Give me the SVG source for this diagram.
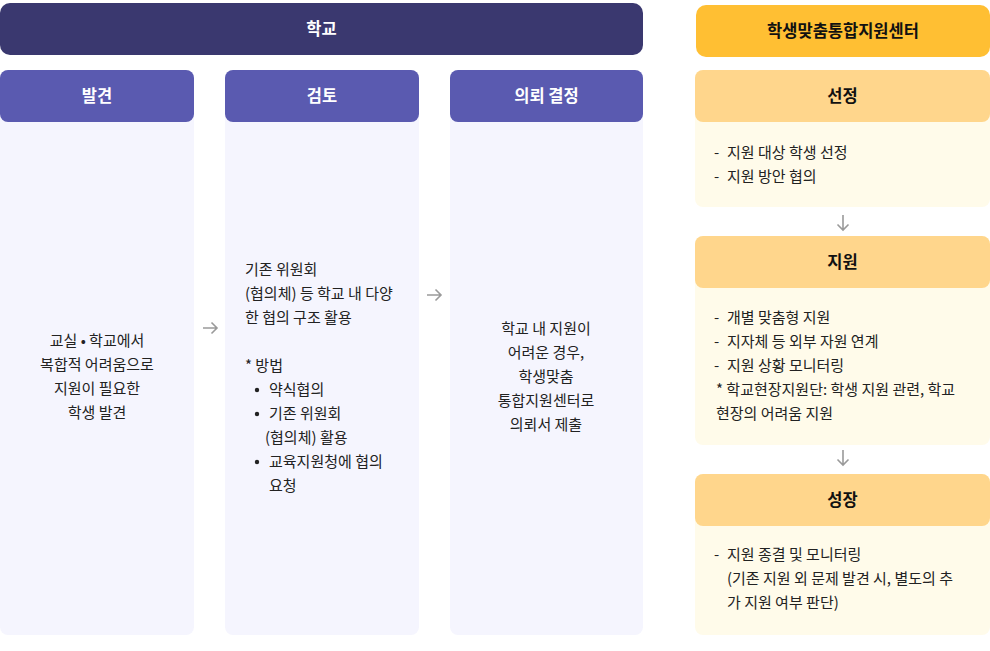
<svg xmlns="http://www.w3.org/2000/svg" width="990" height="651" viewBox="0 0 990 651">
<defs>
<style>
text{font-family:"Noto Sans CJK KR","Noto Sans",sans-serif;}
.hd{font-size:16.5px;font-weight:700;fill:#fff;text-anchor:middle;}
.hd2{font-size:16.5px;font-weight:700;fill:#111;text-anchor:middle;}
.tx{font-size:15px;fill:#222;}
.c{text-anchor:middle;}
.sch{fill:#3a386f;}
.ph{fill:#5a5ab0;}
.pb{fill:#f5f5fe;}
.ct{fill:#ffbf33;}
.oh{fill:#ffd68c;}
.ob{fill:#fffbea;}
.ar{fill:none;stroke:#9a9a9a;stroke-width:1.6;}
</style>
</defs>
<rect width="990" height="651" fill="#fff"/>
<g id="school">
<rect class="sch" x="0" y="3" width="643" height="52" rx="10"/>
<text class="hd" x="321.5" y="35">학교</text>
</g>
<g id="discover">
<rect class="pb" x="0" y="70" width="194" height="565" rx="8"/>
<rect class="ph" x="0" y="70" width="194" height="52" rx="8"/>
<text class="hd" x="97" y="102">발견</text>
<text class="tx c" x="97" y="346">교실 • 학교에서</text>
<text class="tx c" x="97" y="370">복합적 어려움으로</text>
<text class="tx c" x="97" y="394">지원이 필요한</text>
<text class="tx c" x="97" y="418">학생 발견</text>
</g>
<g id="review">
<rect class="pb" x="225" y="70" width="194" height="565" rx="8"/>
<rect class="ph" x="225" y="70" width="194" height="52" rx="8"/>
<text class="hd" x="322" y="102">검토</text>
<text class="tx" x="245" y="275">기존 위원회</text>
<text class="tx" x="245" y="299">(협의체) 등 학교 내 다양</text>
<text class="tx" x="245" y="323">한 협의 구조 활용</text>
<text class="tx" x="245" y="371">* 방법</text>
<circle cx="257" cy="390" r="2.2" fill="#222"/>
<text class="tx" x="269" y="395">약식협의</text>
<circle cx="257" cy="414" r="2.2" fill="#222"/>
<text class="tx" x="269" y="419">기존 위원회</text>
<text class="tx" x="265" y="443">(협의체) 활용</text>
<circle cx="257" cy="462" r="2.2" fill="#222"/>
<text class="tx" x="269" y="467">교육지원청에 협의</text>
<text class="tx" x="269" y="491">요청</text>
</g>
<g id="refer">
<rect class="pb" x="450" y="70" width="193" height="565" rx="8"/>
<rect class="ph" x="450" y="70" width="193" height="52" rx="8"/>
<text class="hd" x="546.5" y="102">의뢰 결정</text>
<text class="tx c" x="546" y="334">학교 내 지원이</text>
<text class="tx c" x="546" y="358">어려운 경우,</text>
<text class="tx c" x="546" y="382">학생맞춤</text>
<text class="tx c" x="546" y="406">통합지원센터로</text>
<text class="tx c" x="546" y="430">의뢰서 제출</text>
</g>
<g id="center">
<rect class="ct" x="696" y="5" width="294" height="52" rx="10"/>
<text class="hd2" x="843" y="37">학생맞춤통합지원센터</text>
</g>
<g id="select">
<rect class="ob" x="695" y="70" width="295" height="137" rx="8"/>
<rect class="oh" x="695" y="70" width="295" height="52" rx="8"/>
<text class="hd2" x="842.5" y="102">선정</text>
<text class="tx" x="714" y="158">-</text>
<text class="tx" x="727" y="158">지원 대상 학생 선정</text>
<text class="tx" x="714" y="182">-</text>
<text class="tx" x="727" y="182">지원 방안 협의</text>
</g>
<g id="support">
<rect class="ob" x="695" y="236" width="295" height="209" rx="8"/>
<rect class="oh" x="695" y="236" width="295" height="52" rx="8"/>
<text class="hd2" x="842.5" y="268">지원</text>
<text class="tx" x="714" y="323">-</text>
<text class="tx" x="727" y="323">개별 맞춤형 지원</text>
<text class="tx" x="714" y="347">-</text>
<text class="tx" x="727" y="347">지자체 등 외부 자원 연계</text>
<text class="tx" x="714" y="371">-</text>
<text class="tx" x="727" y="371">지원 상황 모니터링</text>
<text class="tx" x="716" y="395">* 학교현장지원단: 학생 지원 관련, 학교</text>
<text class="tx" x="716" y="419">현장의 어려움 지원</text>
</g>
<g id="growth">
<rect class="ob" x="695" y="474" width="295" height="161" rx="8"/>
<rect class="oh" x="695" y="474" width="295" height="52" rx="8"/>
<text class="hd2" x="842.5" y="506">성장</text>
<text class="tx" x="714" y="560">-</text>
<text class="tx" x="727" y="560">지원 종결 및 모니터링</text>
<text class="tx" x="727" y="584">(기존 지원 외 문제 발견 시, 별도의 추</text>
<text class="tx" x="727" y="608">가 지원 여부 판단)</text>
</g>
<g id="connectors">
<path class="ar" d="M203 328H217M211.5 322.5L217 328L211.5 333.5"/>
<path class="ar" d="M427 295H441M435.5 289.5L441 295L435.5 300.5"/>
<path class="ar" d="M843 215V230M837.5 224.5L843 230L848.5 224.5"/>
<path class="ar" d="M843 450V465M837.5 459.5L843 465L848.5 459.5"/>
</g>
</svg>
